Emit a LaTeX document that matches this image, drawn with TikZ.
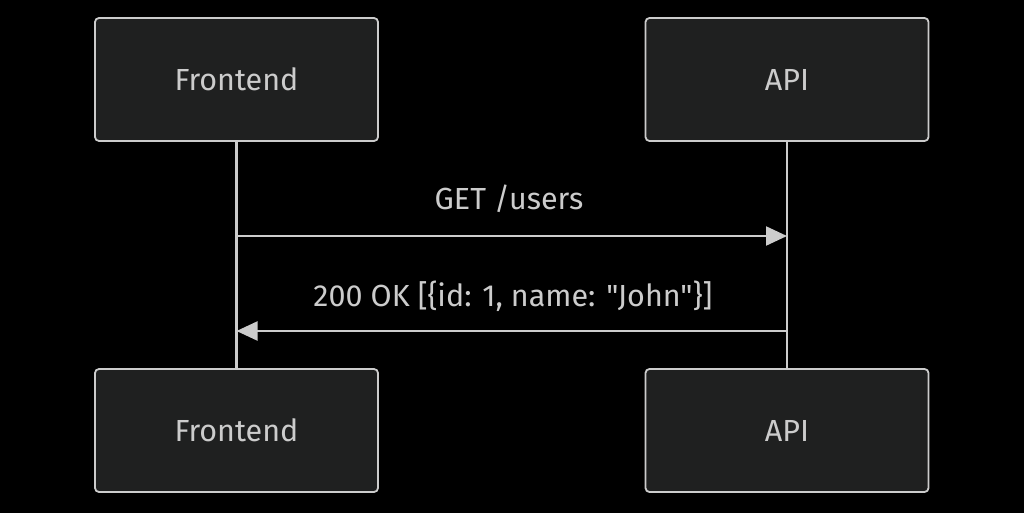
\documentclass[tikz,border=0pt]{standalone}
\usepackage{fontspec}
\setmainfont{Fira Sans}[Ligatures=TeXOff]
\usetikzlibrary{arrows.meta}
\definecolor{bg}{HTML}{000000}
\definecolor{boxfill}{HTML}{1F2020}
\definecolor{fg}{HTML}{CCCCCC}
\begin{document}
\begin{tikzpicture}[x=1pt,y=-1pt,
  actor/.style={draw=fg, line width=1.8pt, fill=boxfill, rounded corners=4pt,
    minimum width=283pt, minimum height=123pt, inner sep=0pt, text=fg,
    font=\fontsize{30.5}{36}\selectfont},
  life/.style={draw=fg, line width=2.4pt},
  msg/.style={draw=fg, line width=2.2pt, -{Triangle[length=21pt,width=19pt]}},
  lbl/.style={text=fg, font=\fontsize{30.5}{36}\selectfont, inner sep=0pt}]
\fill[bg] (0,0) rectangle (1024,513);
\useasboundingbox (0,0) rectangle (1024,513);
\node[actor] (fa) at (236.5,79.5) {Frontend};
\node[actor] (aa) at (787,79.5) {API};
\node[actor] (fb) at (236.5,430.5) {Frontend};
\node[actor] (ab) at (787,430.5) {API};
\draw[life] (fa.south) -- (fb.north);
\draw[life] (aa.south) -- (ab.north);
\coordinate (m1s) at (fa.south |- 0,236);
\coordinate (m1e) at (aa.south |- 0,236);
\coordinate (m2s) at (aa.south |- 0,331);
\coordinate (m2e) at (fa.south |- 0,331);
\draw[msg] (m1s) -- (m1e);
\draw[msg] (m2s) -- (m2e);
\node[lbl] (l1) at (509,199) {GET /users};
\node[lbl] (l2) at (513,296) {200 OK [\{id: 1, name: "John"\}]};
\end{tikzpicture}
\end{document}
